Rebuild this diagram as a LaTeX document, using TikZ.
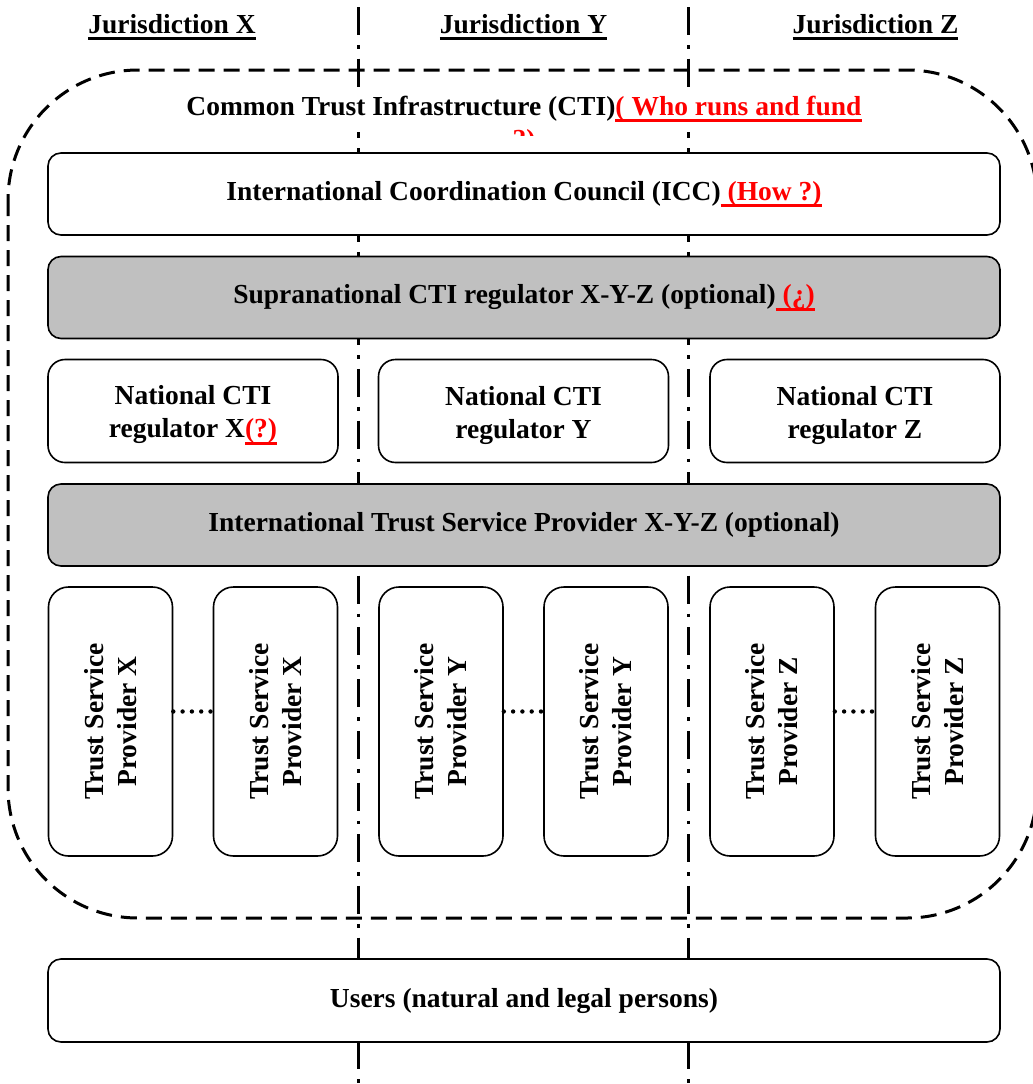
\documentclass[tikz,border=0pt]{standalone}
\usepackage{fontspec}
\setmainfont{Liberation Serif}
\usetikzlibrary{calc}
\definecolor{boxgray}{HTML}{C0C0C0}
\definecolor{redq}{HTML}{FF0000}
\newcommand{\ulbox}[1]{\leavevmode\setbox0\hbox{#1}\rlap{\vrule height -4.2pt depth 7pt width \wd0}\box0}
\newcommand{\ru}[1]{{\color{redq}\ulbox{#1}}}
\begin{document}
\begin{tikzpicture}[x=1pt,y=-1pt,
  txt/.style={font=\fontsize{27.5}{33}\selectfont\bfseries, align=center, inner sep=0pt},
  wbox/.style={draw=black, line width=1.6pt, fill=white, rounded corners=13pt, inner sep=0pt},
  gbox/.style={wbox, fill=boxgray},
  natbox/.style={wbox, rounded corners=17pt, minimum width=290pt, minimum height=103pt},
  tspbox/.style={wbox, rounded corners=20pt, minimum width=124pt, minimum height=269pt},
  widebox/.style={minimum width=952pt, minimum height=82pt},
  vline/.style={line width=3pt, dash pattern=on 28pt off 10pt on 3.7pt off 10pt, dash phase=44.7pt},
  ctiline/.style={line width=3pt, dash pattern=on 16pt off 9pt, rounded corners=130pt},
  dotline/.style={line width=4.4pt, line cap=round, dash pattern=on 0pt off 9.3pt}
]
\useasboundingbox (0,0) rectangle (1033,1084);
\fill[white] (0,0) rectangle (1033,1084);

% common trust infrastructure boundary
\draw[ctiline] (8,70) rectangle (1037,918);

% jurisdiction separators
\coordinate (s1t) at (358,0); \coordinate (s1b) at (358,1084);
\coordinate (s2t) at (688,0); \coordinate (s2b) at (688,1084);
\draw[vline] (s1t) -- (s1b);
\draw[vline] (s2t) -- (s2b);

% headers
\node[txt, anchor=base] (hx) at (172,33) {\ulbox{Jurisdiction X}};
\node[txt, anchor=base] (hy) at (523.5,33) {\ulbox{Jurisdiction Y}};
\node[txt, anchor=base] (hz) at (875.5,33) {\ulbox{Jurisdiction Z}};

% title
\fill[white] (180,88) rectangle (870,132);
\node[txt, anchor=base] (title) at (524,115) {Common Trust Infrastructure (CTI)\ru{( Who runs and fund}};
\begin{scope}
  \clip (400,120) rectangle (650,135.5);
  \node[txt, anchor=base] (title2) at (524,148) {\ru{?)}};
\end{scope}

% layers
\node[wbox, widebox, txt] (icc) at (524,194) {International Coordination Council (ICC)\ru{~(How ?)}};
\node[gbox, widebox, txt] (supra) at (524,297.5) {Supranational CTI regulator X-Y-Z (optional)\ru{~(¿)}};

\node[natbox] (nx) at (193,411) {};
\node[natbox] (ny) at (523.5,411) {};
\node[natbox] (nz) at (855,411) {};
\node[txt] (nxt) at ($(nx)+(0,4)$) {National CTI\\regulator X\ru{(?)}};
\node[txt] (nyt) at ($(ny)+(0,4)$) {National CTI\\regulator Y};
\node[txt] (nzt) at ($(nz)+(0,4)$) {National CTI\\regulator Z};

\node[gbox, widebox, txt] (itsp) at (524,525) {International Trust Service Provider X-Y-Z (optional)};

\node[tspbox] (x1) at (110.5,721.5) {};
\node[tspbox] (x2) at (275.5,721.5) {};
\node[tspbox] (y1) at (441,721.5) {};
\node[tspbox] (y2) at (606,721.5) {};
\node[tspbox] (z1) at (772,721.5) {};
\node[tspbox] (z2) at (937.5,721.5) {};
\node[txt, rotate=90] (tx1) at (x1) {Trust Service\\Provider X};
\node[txt, rotate=90] (tx2) at (x2) {Trust Service\\Provider X};
\node[txt, rotate=90] (ty1) at (y1) {Trust Service\\Provider Y};
\node[txt, rotate=90] (ty2) at (y2) {Trust Service\\Provider Y};
\node[txt, rotate=90] (tz1) at (z1) {Trust Service\\Provider Z};
\node[txt, rotate=90] (tz2) at (z2) {Trust Service\\Provider Z};

\draw[dotline] ($(x1.east)+(0,-10)$) -- ($(x2.west)+(0,-10)$);
\draw[dotline] ($(y1.east)+(0,-10)$) -- ($(y2.west)+(0,-10)$);
\draw[dotline] ($(z1.east)+(0,-10)$) -- ($(z2.west)+(0,-10)$);

\node[wbox, widebox, minimum height=83pt, txt] (users) at (524,1000.5) {Users (natural and legal persons)};
\end{tikzpicture}
\end{document}
